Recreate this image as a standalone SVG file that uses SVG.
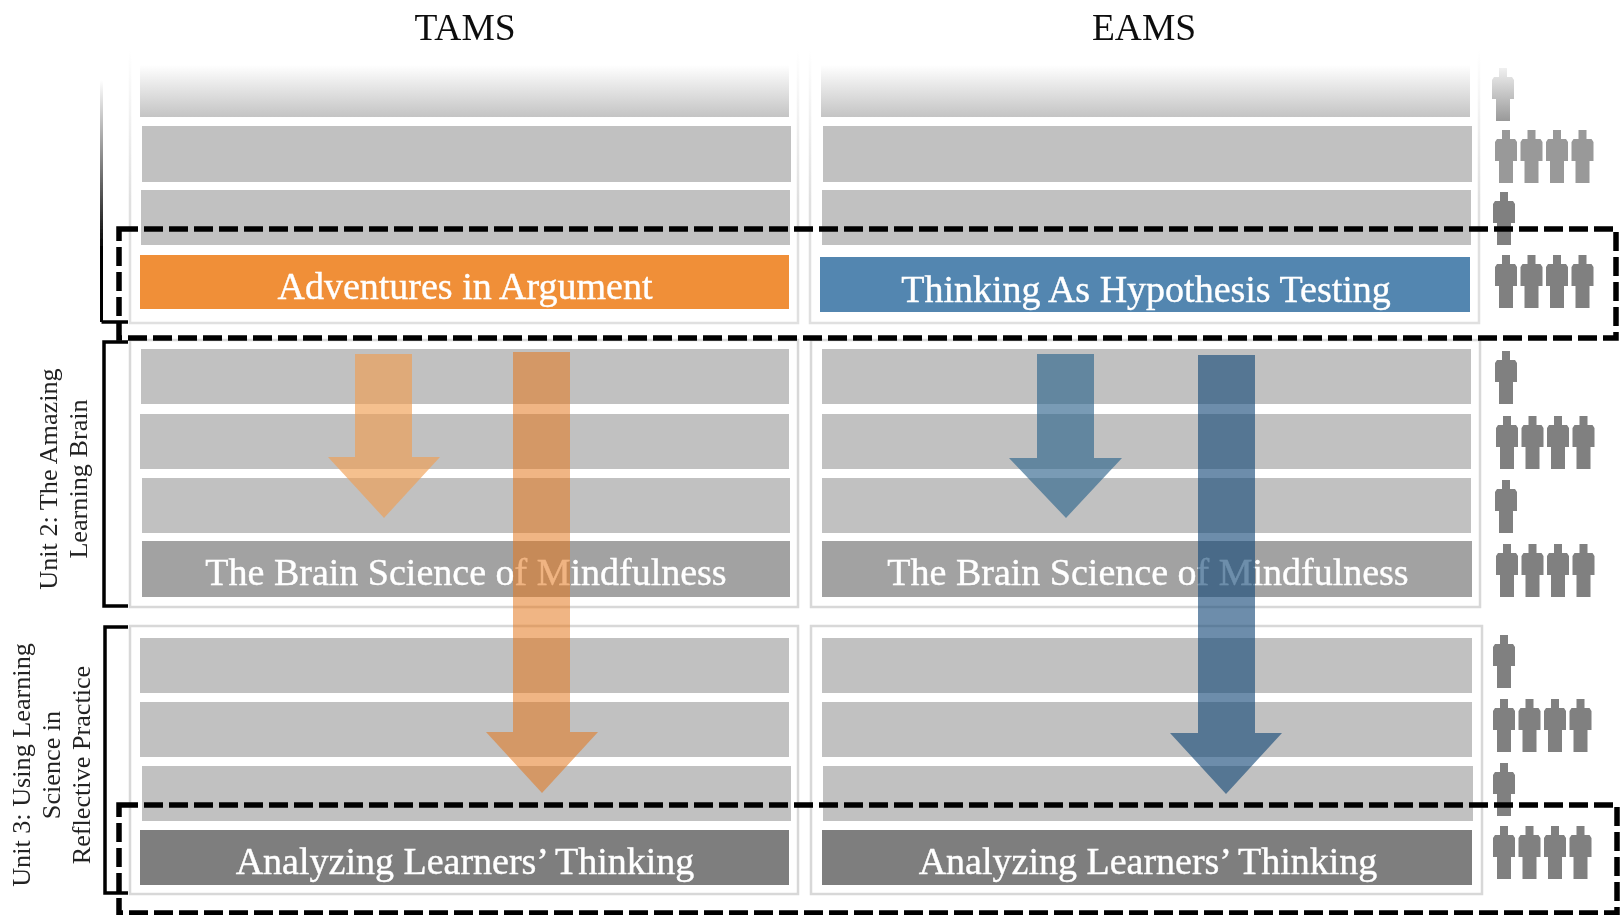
<svg xmlns="http://www.w3.org/2000/svg" width="1621" height="915" viewBox="0 0 1621 915">
<style>
.t{font-family:"Liberation Serif","Times New Roman",serif}
.h{font-size:37.500px;fill:#111;text-anchor:middle}
.l{font-size:38px;fill:#fff;text-anchor:middle;stroke:#fff;stroke-width:.4}
.u{font-size:26.200px;fill:#222;text-anchor:middle}
.fr{fill:none;stroke:#d8d8d8;stroke-width:2.500}
.g{fill:#c1c1c1}
.br{fill:none;stroke:#000;stroke-width:3.500}
.ds{fill:none;stroke:#000;stroke-width:5.500;stroke-dasharray:19 6}
</style>
<defs>
<filter id="soft" x="0" y="0" width="1621" height="915" filterUnits="userSpaceOnUse"><feGaussianBlur stdDeviation="0.7"/></filter>
<linearGradient id="fade" x1="0" y1="0" x2="0" y2="1"><stop offset="0" stop-color="#fff"/><stop offset="1" stop-color="#c4c4c4"/></linearGradient>
<linearGradient id="fadeP" x1="0" y1="0" x2="0" y2="1"><stop offset="0" stop-color="#f0f0f0"/><stop offset="1" stop-color="#999"/></linearGradient>
<linearGradient id="fadeL" gradientUnits="userSpaceOnUse" x1="0" y1="80" x2="0" y2="250"><stop offset="0" stop-color="#fff"/><stop offset="1" stop-color="#000"/></linearGradient>
<linearGradient id="fadeF" gradientUnits="userSpaceOnUse" x1="0" y1="50" x2="0" y2="200"><stop offset="0" stop-color="#fff"/><stop offset="1" stop-color="#e0e0e0"/></linearGradient>
<path id="p" d="M-4 0H4V9H9L11 12V31H7V53H-7V31H-11V12L-9 9H-4Z"/>
<g id="p4"><use href="#p" x="0"/><use href="#p" x="25.500"/><use href="#p" x="51"/><use href="#p" x="76.500"/></g>
</defs>
<rect width="1621" height="915" fill="#fff"/>
<g filter="url(#soft)">
<g id="headers"><text class="t h" x="465" y="40">TAMS</text><text class="t h" x="1144" y="40">EAMS</text></g>
<g id="unit1-frames"><path fill="none" stroke="url(#fadeF)" stroke-width="2.500" d="M130 50V323H798V50M810 50V323H1479V50"/></g>
<g id="unit2-frames"><rect class="fr" x="130" y="340" width="668" height="267"/><rect class="fr" x="811" y="340" width="669" height="267"/></g>
<g id="unit3-frames"><rect class="fr" x="130" y="626" width="668" height="268"/><rect class="fr" x="811" y="626" width="671" height="268"/></g>
<g id="tams-rows">
<rect x="140" y="65" width="649" height="52" fill="url(#fade)"/>
<rect class="g" x="142" y="126" width="649" height="56"/>
<rect class="g" x="141" y="190" width="649" height="55"/>
<g id="adventures"><rect x="140" y="255" width="649" height="54" fill="#f08f38"/><text class="t l" x="465" y="299">Adventures in Argument</text></g>
<rect class="g" x="141" y="349" width="648" height="55"/>
<rect class="g" x="140" y="414" width="649" height="55"/>
<rect class="g" x="142" y="478" width="648" height="55"/>
<g id="brain-t"><rect x="142" y="541" width="648" height="56" fill="#a2a2a2"/><text class="t l" x="466" y="585">The Brain Science of Mindfulness</text></g>
<rect class="g" x="140" y="638" width="649" height="55"/>
<rect class="g" x="140" y="702" width="649" height="55"/>
<rect class="g" x="142" y="766" width="649" height="55"/>
<g id="analyzing-t"><rect x="140" y="830" width="649" height="55" fill="#7e7e7e"/><text class="t l" x="465" y="874">Analyzing Learners’ Thinking</text></g>
</g>
<g id="eams-rows">
<rect x="821" y="65" width="649" height="52" fill="url(#fade)"/>
<rect class="g" x="823" y="126" width="649" height="56"/>
<rect class="g" x="822" y="190" width="649" height="55"/>
<g id="hypothesis"><rect x="820" y="257" width="650" height="55" fill="#5286b0"/><text class="t l" x="1146" y="302">Thinking As Hypothesis Testing</text></g>
<rect class="g" x="822" y="349" width="649" height="55"/>
<rect class="g" x="822" y="414" width="649" height="55"/>
<rect class="g" x="822" y="478" width="649" height="55"/>
<g id="brain-e"><rect x="822" y="541" width="650" height="56" fill="#a2a2a2"/><text class="t l" x="1148" y="585">The Brain Science of Mindfulness</text></g>
<rect class="g" x="822" y="638" width="650" height="55"/>
<rect class="g" x="822" y="702" width="650" height="55"/>
<rect class="g" x="823" y="766" width="650" height="55"/>
<g id="analyzing-e"><rect x="822" y="830" width="650" height="55" fill="#7e7e7e"/><text class="t l" x="1148" y="874">Analyzing Learners’ Thinking</text></g>
</g>
<g id="people">
<use href="#p" x="1503" y="68" fill="url(#fadeP)"/>
<use href="#p4" x="1506" y="130" fill="#999"/>
<use href="#p" x="1504" y="192" fill="#808080"/>
<use href="#p4" x="1506" y="255" fill="#808080"/>
<use href="#p" x="1506" y="351" fill="#808080"/>
<use href="#p4" x="1507" y="416" fill="#808080"/>
<use href="#p" x="1506" y="480" fill="#808080"/>
<use href="#p4" x="1507" y="544" fill="#808080"/>
<use href="#p" x="1504" y="635" fill="#808080"/>
<use href="#p4" x="1504" y="699" fill="#808080"/>
<use href="#p" x="1504" y="763" fill="#808080"/>
<use href="#p4" x="1504" y="826" fill="#808080"/>
</g>
<g id="connectors">
<path fill="#f09e53" fill-opacity=".65" d="M355 354H412V457H440L384 518L328 457H355Z"/>
<path fill="#e4771c" fill-opacity=".55" d="M513 352H570V732H598L542 793L486 732H513Z"/>
<path fill="#30678e" fill-opacity=".65" d="M1037 354H1094V458H1122L1066 518L1009 458H1037Z"/>
<path fill="#144877" fill-opacity=".62" d="M1198 355H1255V733H1282L1226 794L1170 733H1198Z"/>
<path stroke="url(#fadeL)" fill="none" stroke-width="3" d="M101.500 80V322"/>
<path class="br" d="M101.500 322H128"/>
<path class="br" d="M128 342H104V606H128"/>
<path class="br" d="M128 627H105V893H128"/>
<path class="ds" d="M119 229H1616V338H119Z"/>
<path class="ds" d="M119 805H1617V913H119Z"/>
</g>
<g id="unit-labels">
<text class="t u" transform="translate(57 479) rotate(-90)"><tspan x="0" dy="0">Unit 2: The Amazing</tspan><tspan x="0" dy="30">Learning Brain</tspan></text>
<text class="t u" transform="translate(30 765) rotate(-90)"><tspan x="0" dy="0">Unit 3: Using Learning</tspan><tspan x="0" dy="30">Science in</tspan><tspan x="0" dy="30">Reflective Practice</tspan></text>
</g>
</g>
</svg>
